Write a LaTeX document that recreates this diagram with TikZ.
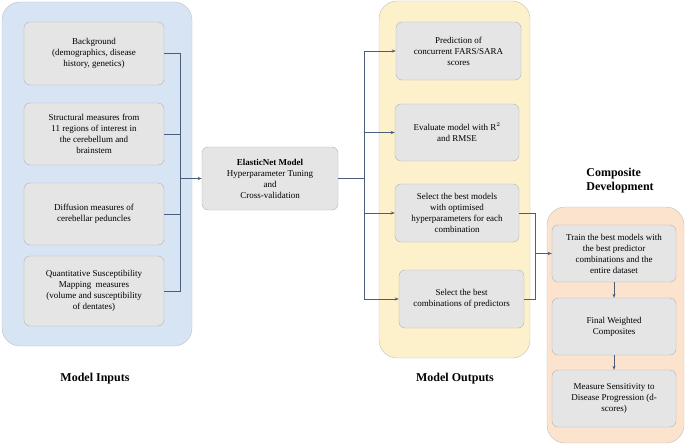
\documentclass[tikz,border=0pt]{standalone}
\usepackage{fontspec}
\setmainfont{Liberation Serif}
\usepackage{tikz}
\usetikzlibrary{positioning,arrows.meta,shadows.blur}
\definecolor{inblue}{HTML}{D6E4F4}
\definecolor{outyel}{HTML}{FDF1CB}
\definecolor{comporg}{HTML}{FBE3CD}
\definecolor{boxgray}{HTML}{E5E5E5}
\definecolor{linkc}{HTML}{4A5D7A}
\begin{document}
\begin{tikzpicture}[x=1pt,y=-1pt,font=\fontsize{9}{11}\selectfont,
  panel/.style = {draw=gray!50,rounded corners=18pt},
  box/.style = {draw=gray!60,rounded corners=6pt,fill=boxgray,align=center,inner sep=1pt},
  link/.style = {draw=linkc,thick,-{Stealth[length=4pt]}},
  plain/.style = {draw=linkc,thick},
  title/.style = {font=\fontsize{12}{14}\selectfont\bfseries,align=left}]
 \useasboundingbox (0,0) rectangle (685,444);
 % panels
 \draw[panel,fill=inblue] (2,2) rectangle (192,346);
 \draw[panel,fill=outyel] (379,1) rectangle (530,358);
 \draw[panel,fill=comporg] (547,207) rectangle (684,443);
 \node[title] (tin) at (95,379) {Model Inputs};
 \node[title] (tout) at (455,379) {Model Outputs};
 \node[title] (tcomp) at (620,181) {Composite\\Development};
 % inputs
 \node[box,minimum width=140,minimum height=63] (b1) at (94,53.5) {Background\\(demographics, disease\\history, genetics)};
 \node[box,minimum width=140,minimum height=62] (b2) at (94,134) {Structural measures from\\11 regions of interest in\\the cerebellum and\\brainstem};
 \node[box,minimum width=140,minimum height=62] (b3) at (94,214) {Diffusion measures of\\cerebellar peduncles};
 \node[box,minimum width=140,minimum height=70] (b4) at (94,291) {Quantitative Susceptibility\\Mapping\ \ measures\\(volume and susceptibility\\of dentates)};
 % model
 \node[box,minimum width=136,minimum height=63] (em) at (270,178.5) {\textbf{ElasticNet Model}\\Hyperparameter Tuning\\and\\Cross-validation};
 % outputs
 \node[box,minimum width=125,minimum height=58] (o1) at (458.5,51) {Prediction of\\concurrent FARS/SARA\\scores};
 \node[box,minimum width=124,minimum height=57] (o2) at (457,132.5) {Evaluate model with R$^2$\\and RMSE};
 \node[box,minimum width=124,minimum height=58] (o3) at (457,213) {Select the best models\\with optimised\\hyperparameters for each\\combination};
 \node[box,minimum width=125,minimum height=58] (o4) at (461.5,299) {Select the best\\combinations of predictors};
 % composite
 \node[box,minimum width=124,minimum height=57] (c1) at (614,253.5) {Train the best models with\\the best predictor\\combinations and the\\entire dataset};
 \node[box,minimum width=124,minimum height=57] (c2) at (614,326.5) {Final Weighted\\Composites};
 \node[box,minimum width=124,minimum height=57] (c3) at (614,398.5) {Measure Sensitivity to\\Disease Progression (d-\\scores)};
 % connectors
 \coordinate (jin) at (180,178.5);
 \draw[plain] (b1.east) -| (jin) (b4.east) -| (jin) (b2.east) -| (jin) (b3.east) -| (jin);
 \draw[link] (jin) -- (em.west);
 \coordinate (jout) at (364,178.5);
 \draw[plain] (em.east) -- (jout);
 \foreach \o in {o1,o2,o3,o4} \draw[link] (jout) |- (\o.west);
 \coordinate (jc) at (535,253.5);
 \draw[plain] (o3.east) -| (jc) (o4.east) -| (jc);
 \draw[link] (jc) -- (c1.west);
 \draw[link] (c1) -- (c2);
 \draw[link] (c2) -- (c3);
\end{tikzpicture}
\end{document}
